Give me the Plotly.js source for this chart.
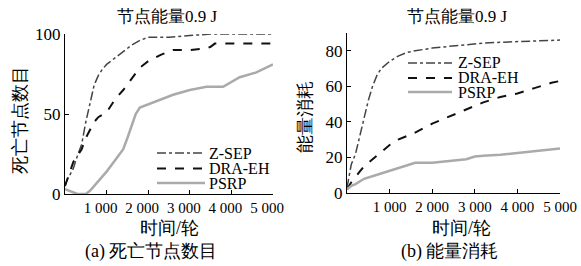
<!DOCTYPE html>
<html><head><meta charset="utf-8">
<script src="https://cdn.plot.ly/plotly-3.0.1.min.js"></script>
<style>html,body{margin:0;padding:0;background:#fff}#c{width:581px;height:266px}</style>
</head><body><div id="c"></div>
<script>
const seriesNames = ["Z-SEP", "DRA-EH", "PSRP"];
const xTickVals = [1000, 2000, 3000, 4000, 5000];
const xTickText = ["1 000", "2 000", "3 000", "4 000", "5 000"];
const yTickValsA = [0, 50, 100];
const yTickValsB = [0, 20, 40, 60, 80];

// (a) dead nodes
const deadZsepX = [0,50,100,200,300,400,500,600,700,800,900,1000,1200,1400,1600,1800,2000,2200,2500,3000,3500,4000,4500,5000];
const deadZsepY = [5,9,11,16,24,31,45,57,68,74,78,81,85,89,93,96,98,98,98,99,100,100,100,100];
const deadDraX = [0,50,100,200,300,400,500,600,700,800,1000,1200,1400,1600,1800,2000,2300,2600,3000,3400,3500,3600,4000,4500,5000];
const deadDraY = [5,9,12,20,24,28,35,40,45,48,51,59,65,72,79,83,87,90,90,91,92,94,94,94,94];
const deadPsrpX = [0,100,200,300,400,500,600,800,1000,1200,1400,1500,1600,1700,1800,2000,2200,2600,3000,3400,3800,4000,4200,4600,5000];
const deadPsrpY = [3,2,1,0,0,0,2,8,14,21,28,35,42,50,54,56,58,62,65,67,67,70,73,76,81];

// (b) energy consumption
const engZsepX = [0,50,100,200,300,400,500,600,700,800,1000,1200,1400,1600,2000,2400,2800,3200,3600,4000,4500,5000];
const engZsepY = [3,10,16,22,32,42,52,60,66,70,74,77,79,80,81.5,82.5,83.5,84.3,84.8,85.2,85.6,86];
const engDraX = [0,100,200,400,600,800,1000,1200,1600,2000,2400,2800,3200,3600,4000,4400,4800,5000];
const engDraY = [2,6,9,15,19,23,27,30,34,39,43,47,51,54,56,59,62,63];
const engPsrpX = [0,100,200,400,800,1200,1600,2000,2400,2800,3000,3200,3600,4000,4400,5000];
const engPsrpY = [2,4,5,8,11,14,17,17,18,19,20.5,21,21.5,22.5,23.5,25];

const styles = [
  {color:"#444", width:1.5, dash:"dashdot"},
  {color:"#111", width:2, dash:"dash"},
  {color:"#aaa", width:2.5, dash:"solid"}
];
const serif = "Times New Roman, serif";
const cjk = "Times New Roman, serif";

function tr(x, y, i, xa, ya) {
  return {x:x, y:y, name:seriesNames[i], type:"scatter", mode:"lines",
    line:styles[i], xaxis:xa, yaxis:ya, showlegend:false};
}
const data = [
  tr(deadZsepX, deadZsepY, 0, "x", "y"),
  tr(deadDraX, deadDraY, 1, "x", "y"),
  tr(deadPsrpX, deadPsrpY, 2, "x", "y"),
  tr(engZsepX, engZsepY, 0, "x2", "y2"),
  tr(engDraX, engDraY, 1, "x2", "y2"),
  tr(engPsrpX, engPsrpY, 2, "x2", "y2")
];
const W = 581, H = 266;
const ax = {showline:true, linecolor:"#000", linewidth:1, ticks:"inside", ticklen:4,
  tickcolor:"#000", showgrid:false, zeroline:false, mirror:false, fixedrange:true};
function px(x){return x/W;} function py(y){return 1 - y/H;}
function ann(text, x, y, size, extra) {
  return Object.assign({text:text, x:px(x), y:py(y), xref:"paper", yref:"paper", showarrow:false,
    xanchor:"center", yanchor:"middle", font:{family:cjk, size:size, color:"#000"}}, extra || {});
}
const shapes = [], annotations = [];
function legendBox(x0, x1, tx, rows) {
  for (let i = 0; i < 3; i++) {
    shapes.push({type:"line", xref:"paper", yref:"paper", x0:px(x0), x1:px(x1), y0:py(rows[i]), y1:py(rows[i]),
      line:{color:styles[i].color, width:styles[i].width, dash:styles[i].dash}});
    annotations.push(ann(seriesNames[i], tx, rows[i], 16, {xanchor:"left", font:{family:serif, size:16, color:"#000"}}));
  }
}
legendBox(157, 205, 207, [153, 168.5, 183]);
legendBox(408, 452, 456, [63, 78, 92]);
annotations.push(
  ann("节点能量0.9 J", 167, 16, 17),
  ann("节点能量0.9 J", 457, 16, 17),
  ann("时间/轮", 169, 228, 18),
  ann("时间/轮", 461, 228, 18),
  ann("(a) 死亡节点数目", 151, 251, 18),
  ann("(b) 能量消耗", 450, 251, 18),
  ann("死亡节点数目", 20, 120, 18, {textangle:-90}),
  ann("能量消耗", 305, 117, 18, {textangle:-90})
);
const layout = {
  width:W, height:H, margin:{l:0,r:0,t:0,b:0}, paper_bgcolor:"#fff", plot_bgcolor:"#fff",
  showlegend:false, font:{family:serif},
  xaxis: Object.assign({}, ax, {domain:[px(65), px(273)], range:[0,5000], tickvals:xTickVals, ticktext:xTickText,
    tickfont:{family:serif, size:15, color:"#000"}, anchor:"y", ticklabelshift:-6}),
  yaxis: Object.assign({}, ax, {domain:[py(194), py(34)], range:[0,100], tickvals:yTickValsA,
    tickfont:{family:serif, size:17, color:"#000"}, anchor:"x"}),
  xaxis2: Object.assign({}, ax, {domain:[px(347), px(560)], range:[0,5000], tickvals:xTickVals, ticktext:xTickText,
    tickfont:{family:serif, size:15, color:"#000"}, anchor:"y2"}),
  yaxis2: Object.assign({}, ax, {domain:[py(193), py(33)], range:[0,90], tickvals:yTickValsB,
    tickfont:{family:serif, size:17, color:"#000"}, anchor:"x2"}),
  shapes: shapes,
  annotations: annotations
};
Plotly.newPlot("c", data, layout, {staticPlot:true, displayModeBar:false});
</script></body></html>
